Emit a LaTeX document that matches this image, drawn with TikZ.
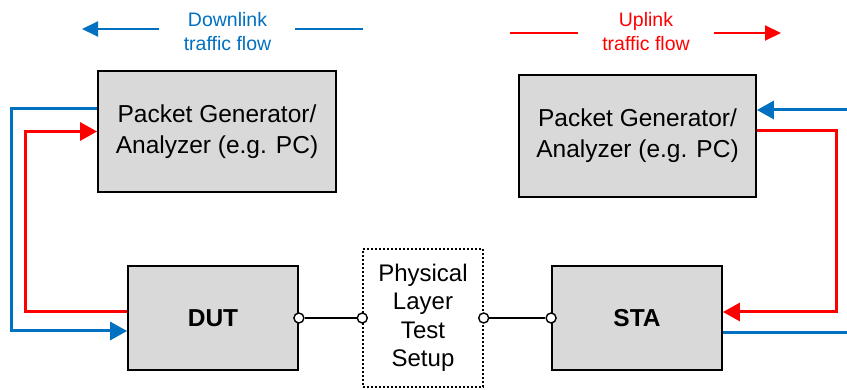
\documentclass[tikz,border=0pt]{standalone}
\usepackage{fontspec}
\setmainfont{Liberation Sans}
\usetikzlibrary{arrows.meta}
\definecolor{dlblue}{HTML}{0070C0}
\definecolor{ulred}{HTML}{FF0000}
\definecolor{boxgray}{HTML}{D9D9D9}

\begin{document}
\begin{tikzpicture}[x=1pt,y=-1pt,
	unit/.style={draw,line width=1.8pt,fill=boxgray,inner sep=0pt,align=center,
		font=\fontsize{24.5}{31}\selectfont},
	link/.style={line width=3pt,-{Triangle[length=17pt,width=18pt]}},
	flow/.style={line width=2pt},
	port/.style={circle,draw,fill=white,line width=1.4pt,inner sep=0pt,minimum size=10pt}]
	
	\useasboundingbox (0,0) rectangle (847,390);
	
	% traffic flow labels
	\node[dlblue,align=center,font=\fontsize{19.5}{24}\selectfont] (dltxt) at (227.5,32) {Downlink\\traffic flow};
	\node[ulred,align=center,font=\fontsize{19.5}{24}\selectfont] (ultxt) at (646,32) {Uplink\\traffic flow};
	\coordinate (dlA) at (159,29);
	\coordinate (dlB) at (82,29);
	\coordinate (dlC) at (295,29);
	\coordinate (dlD) at (363,29);
	\draw[flow,dlblue,-{Triangle[length=16pt,width=15pt]}] (dlA) -- (dlB);
	\draw[flow,dlblue] (dlC) -- (dlD);
	\coordinate (ulA) at (510,33);
	\coordinate (ulB) at (578,33);
	\coordinate (ulC) at (714,33);
	\coordinate (ulD) at (781,33);
	\draw[flow,ulred] (ulA) -- (ulB);
	\draw[flow,ulred,-{Triangle[length=16pt,width=15pt]}] (ulC) -- (ulD);
	
	% boxes
	\node[unit,minimum width=238pt,minimum height=121pt] (pgL) at (217,131.5) {Packet Generator/\\Analyzer (e.g. PC)};
	\node[unit,minimum width=237pt,minimum height=122pt] (pgR) at (637.5,136) {Packet Generator/\\Analyzer (e.g. PC)};
	\node[unit,minimum width=170pt,minimum height=104pt,font=\fontsize{24.5}{31}\selectfont\bfseries] (dut) at (213,318) {DUT};
	\node[unit,minimum width=170pt,minimum height=104pt,font=\fontsize{24.5}{31}\selectfont\bfseries] (sta) at (637,318) {STA};
	\node[draw,dash pattern=on 2pt off 2pt,line width=1.4pt,minimum width=120pt,minimum height=138pt,
		inner sep=0pt,align=center,font=\fontsize{24}{28.5}\selectfont] (phy) at (423,318) {Physical\\Layer\\Test\\Setup};
	
	% ports and cabling
	\node[port] (dutp) at (dut.east) {};
	\node[port] (phyl) at (phy.west) {};
	\node[port] (phyr) at (phy.east) {};
	\node[port] (stap) at (sta.west) {};
	\draw[line width=1.8pt] (dutp) -- (phyl);
	\draw[line width=1.8pt] (phyr) -- (stap);
	
	% left side loops
	\draw[link,dlblue] ([yshift=22.5pt]pgL.west) -- ++(-86,0) |- ([yshift=-13pt]dut.west);
	\draw[link,ulred] ([yshift=6pt]dut.west) -- ++(-102,0) |- (pgL.west);
	
	% right side loops
	\coordinate (dlin) at (847,110);
	\coordinate (dlout) at (847,333);
	\draw[link,dlblue] (dlin) -- ([yshift=26pt]pgR.east);
	\draw[line width=3pt,dlblue] ([yshift=-15pt]sta.east) -- (dlout);
	\draw[link,ulred] ([yshift=5pt]pgR.east) -- ++(80,0) |- ([yshift=6pt]sta.east);
	
\end{tikzpicture}
\end{document}
